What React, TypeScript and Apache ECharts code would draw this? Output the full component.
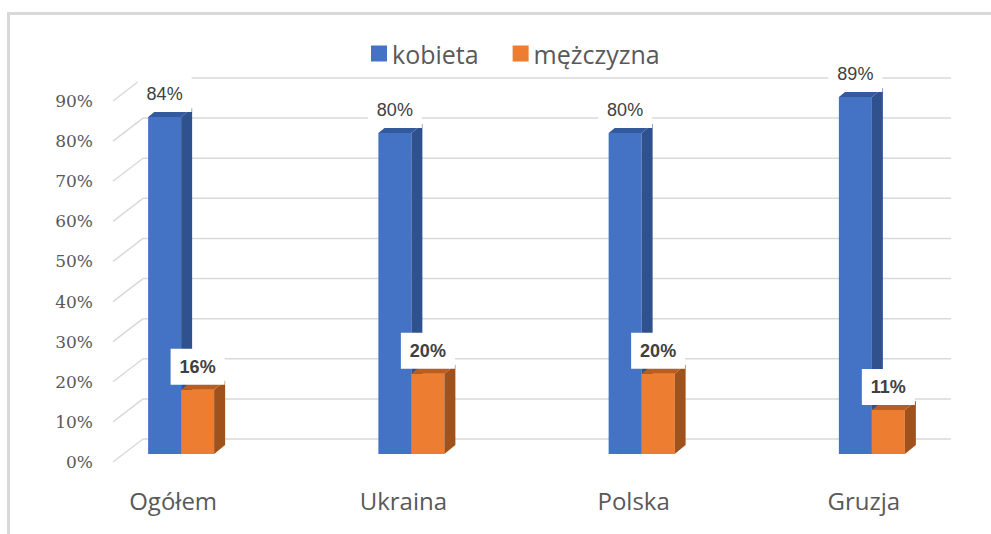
import React, { useEffect, useRef } from 'react';
import * as echarts from 'echarts';

const categories = ['Ogółem', 'Ukraina', 'Polska', 'Gruzja'];
const kobieta = [84, 80, 80, 89];
const mezczyzna = [16, 20, 20, 11];
const yTicks = [0, 10, 20, 30, 40, 50, 60, 70, 80, 90];
const seriesNames = ['kobieta', 'mężczyzna'];

const BAR_W = 33;
const DX = 11;
const DY = -9;
const PX = 8;
const PY = -8;
const WALL_DX = 30;
const WALL_DY = -23;

function makeBarSeries(
  name: string,
  values: number[],
  side: number,
  colors: { front: string; side: string; top: string },
  bold: boolean
) {
  return {
    type: 'custom',
    name,
    data: values.map((v, i) => [i, v]),
    itemStyle: { color: colors.front },
    z: 3,
    renderItem: (params: any, api: any) => {
      const cat = api.value(0);
      const v = api.value(1);
      const base = api.coord([cat, 0]);
      const topP = api.coord([cat, v]);
      const x0 = side < 0 ? base[0] + PX - BAR_W : base[0] + PX;
      const x1 = x0 + BAR_W;
      const yb = base[1] + PY;
      const yt = topP[1] + PY;
      return {
        type: 'group',
        children: [
          {
            type: 'polygon',
            shape: { points: [[x0, yt], [x1, yt], [x1, yb], [x0, yb]] },
            style: { fill: colors.front },
          },
          {
            type: 'polygon',
            shape: { points: [[x1, yt], [x1 + DX, yt + DY], [x1 + DX, yb + DY], [x1, yb]] },
            style: { fill: colors.side },
          },
          {
            type: 'polygon',
            shape: { points: [[x0, yt], [x0 + DX, yt + DY], [x1 + DX, yt + DY], [x1, yt]] },
            style: { fill: colors.top },
          },
          {
            type: 'text',
            z2: 20,
            style: {
              text: v + '%',
              x: (x0 + x1) / 2,
              y: yt - 23,
              align: 'center',
              verticalAlign: 'middle',
              fill: '#404040',
              fontSize: 18,
              fontFamily: 'Liberation Sans',
              fontWeight: bold ? 'bold' : 'normal',
              backgroundColor: '#ffffff',
              padding: [9, 9],
            },
          },
        ],
      };
    },
  };
}

export default function App() {
  const ref = useRef<HTMLDivElement>(null);
  useEffect(() => {
    const chart = echarts.init(ref.current as HTMLDivElement, null, { renderer: 'svg' });
    const option: any = {
      animation: false,
      backgroundColor: '#ffffff',
      color: ['#4472C4', '#ED7D31', '#D9D9D9'],
      graphic: [
        { type: 'line', shape: { x1: 8.5, y1: 12, x2: 8.5, y2: 534 }, style: { stroke: '#D9D9D9', lineWidth: 3 } },
        { type: 'line', shape: { x1: 7, y1: 13.5, x2: 991, y2: 13.5 }, style: { stroke: '#D9D9D9', lineWidth: 3 } },
      ],
      legend: {
        data: seriesNames,
        left: 366,
        top: 36,
        itemWidth: 16,
        itemHeight: 16,
        itemGap: 34,
        icon: 'rect',
        textStyle: { fontFamily: 'Open Sans', fontSize: 25, color: '#595959' },
      },
      grid: { left: 58, right: 12, top: 101, bottom: 72, containLabel: false },
      xAxis: {
        type: 'category',
        data: categories,
        axisLine: { show: false },
        axisTick: { show: false },
        splitLine: { show: false },
        axisLabel: { margin: 26, fontFamily: 'Open Sans', fontSize: 24, color: '#595959' },
      },
      yAxis: {
        type: 'value',
        min: 0,
        max: 90,
        interval: 10,
        offset: -55,
        axisLine: { show: false },
        axisTick: { show: false },
        splitLine: { show: false },
        axisLabel: {
          formatter: '{value}%',
          margin: 20,
          fontFamily: 'DejaVu Serif',
          fontSize: 17,
          color: '#595959',
        },
      },
      series: [
        {
          type: 'custom',
          name: 'grid',
          silent: true,
          z: 1,
          data: yTicks.map((v) => [0, v]),
          renderItem: (params: any, api: any) => {
            const cs = params.coordSys;
            const y = api.coord([0, api.value(1)])[1];
            const xf = cs.x + 55;
            const xb = xf + WALL_DX;
            const yb = y + WALL_DY;
            const xe = cs.x + cs.width - 28;
            return {
              type: 'group',
              children: [
                { type: 'line', shape: { x1: xf, y1: y, x2: xb, y2: yb }, style: { stroke: '#D9D9D9', lineWidth: 1.5 } },
                { type: 'line', shape: { x1: xb, y1: yb, x2: xe, y2: yb }, style: { stroke: '#D9D9D9', lineWidth: 1.5 } },
              ],
            };
          },
        },
        makeBarSeries('kobieta', kobieta, -1, { front: '#4472C4', side: '#2F528F', top: '#345A9E' }, false),
        makeBarSeries('mężczyzna', mezczyzna, 1, { front: '#ED7D31', side: '#A0521D', top: '#BA5D1E' }, true),
      ],
    };
    chart.setOption(option);
    return () => chart.dispose();
  }, []);
  return (
    <div
      ref={ref}
      style={{ position: 'absolute', left: 0, top: 0, width: 991, height: 534 }}
    />
  );
}
